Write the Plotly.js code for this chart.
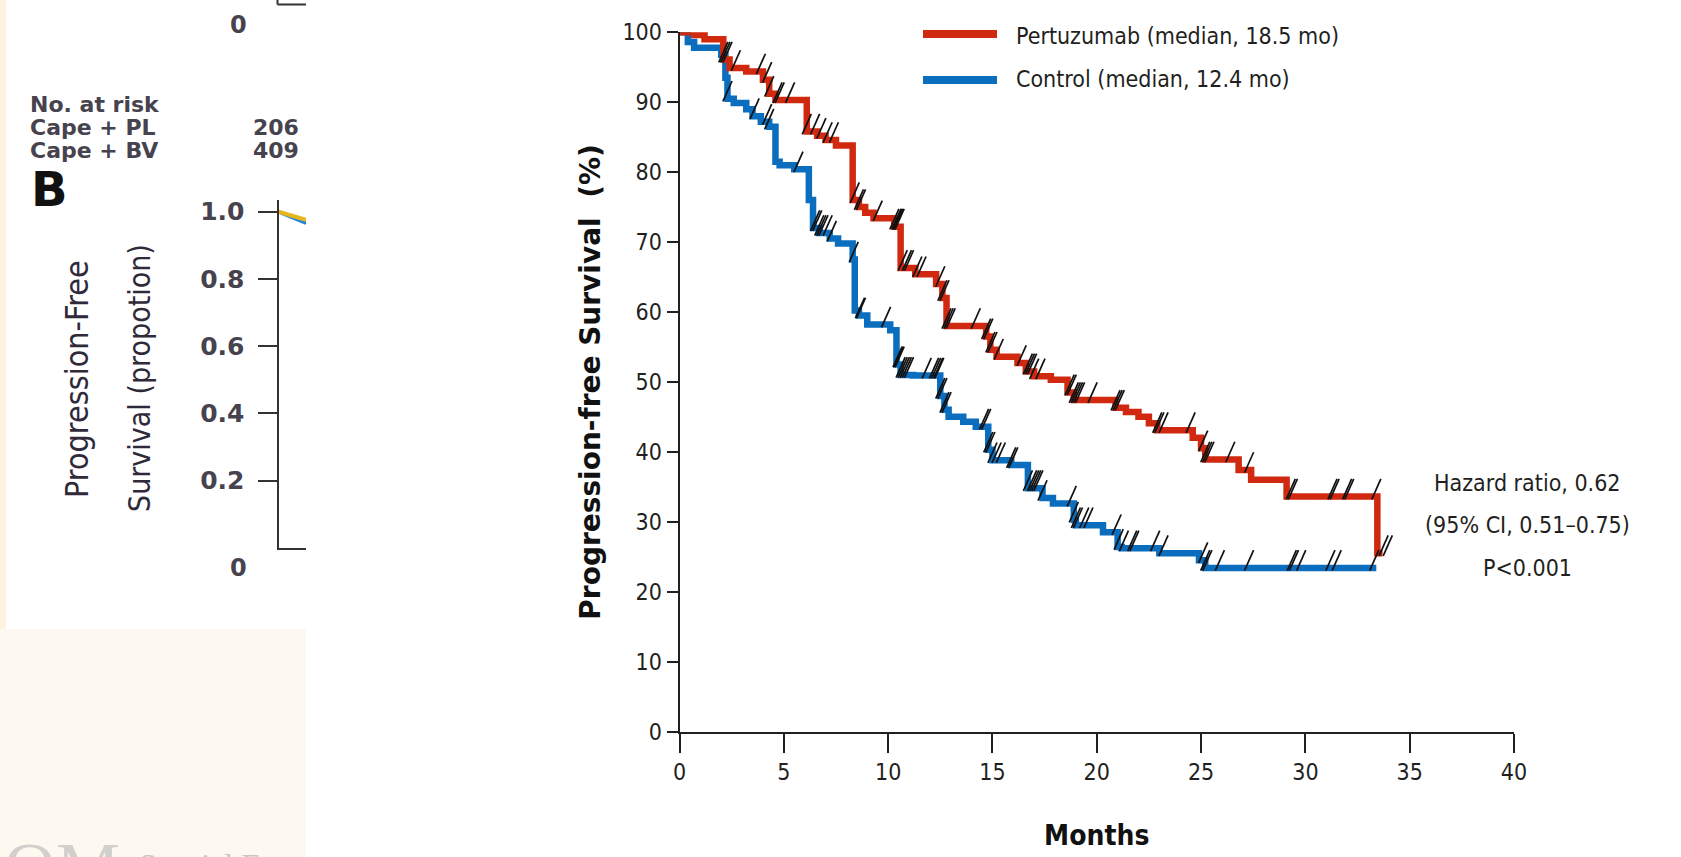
<!DOCTYPE html>
<html>
<head>
<meta charset="utf-8">
<script src="https://cdn.plot.ly/plotly-3.0.1.min.js"></script>
<style>html,body{margin:0;padding:0;background:#fff;}#chart{width:1681px;height:857px;}</style>
</head>
<body>
<div id="chart"></div>
<script>
// ---------- Data ----------
// Pertuzumab arm: Kaplan-Meier step points (months, PFS %)
const pertT = [0, 0.7, 1.2, 2.1, 2.4, 3.2, 4.0, 4.3, 4.6, 6.1, 6.6, 7.0, 7.5, 8.3, 8.6, 8.9, 9.3, 10.3, 10.6, 11.3, 12.3, 12.6, 12.8, 14.7, 14.9, 15.2, 16.2, 16.6, 17.0, 17.8, 18.6, 18.9, 20.9, 21.4, 22.0, 22.5, 22.9, 24.6, 25.0, 25.2, 26.8, 27.4, 29.1, 33.45, 33.7];
const pertS = [100, 99.6, 99.0, 96.1, 94.9, 94.4, 93.2, 91.2, 90.3, 85.8, 85.2, 84.6, 83.8, 76.0, 75.0, 74.2, 73.4, 72.2, 66.3, 65.4, 64.0, 62.0, 58.0, 56.5, 54.6, 53.6, 52.7, 51.5, 50.8, 50.3, 48.5, 47.4, 46.3, 45.7, 45.0, 44.1, 43.1, 42.0, 40.5, 38.9, 37.4, 36.0, 33.6, 25.5, 25.5];
// Control arm
const ctrlT = [0, 0.4, 0.7, 2.0, 2.2, 2.3, 2.6, 3.2, 3.5, 3.9, 4.3, 4.6, 4.8, 5.5, 6.2, 6.4, 6.7, 7.2, 7.6, 8.3, 8.4, 8.6, 9.0, 10.1, 10.4, 10.6, 11.2, 12.5, 12.7, 12.9, 13.6, 14.2, 14.8, 15.0, 15.9, 16.7, 17.4, 17.9, 18.9, 19.0, 20.3, 21.0, 21.2, 23.0, 24.9, 25.2, 33.4];
const ctrlS = [100, 98.6, 97.8, 96.8, 93.5, 90.5, 89.9, 89.0, 88.0, 87.2, 86.5, 81.5, 81.0, 80.4, 76.0, 72.0, 71.3, 70.5, 69.8, 67.5, 60.2, 59.5, 58.2, 57.4, 52.5, 51.0, 50.9, 48.0, 46.0, 45.0, 44.3, 43.6, 40.3, 38.8, 38.1, 34.8, 33.4, 32.6, 30.3, 29.5, 28.5, 26.4, 26.2, 25.5, 24.5, 23.4, 23.4];
// Censoring times (months)
const pertCensor = [0.1, 1.7, 2.1, 2.2, 2.3, 2.7, 3.9, 4.2, 4.3, 4.7, 4.8, 5.3, 6.1, 6.5, 6.8, 7.1, 7.4, 8.4, 8.6, 8.7, 9.5, 10.3, 10.4, 10.45, 10.5, 10.55, 10.7, 10.9, 11.0, 11.4, 11.6, 12.5, 12.6, 12.7, 12.8, 12.9, 13.0, 14.2, 14.7, 14.8, 14.9, 15.0, 15.3, 16.4, 16.7, 16.8, 16.9, 17.0, 17.3, 18.7, 18.8, 18.9, 19.0, 19.1, 19.2, 19.8, 20.9, 21.0, 21.1, 22.9, 23.0, 23.2, 24.5, 25.1, 25.2, 25.3, 25.4, 26.4, 27.3, 29.3, 29.4, 31.3, 31.4, 32.0, 32.1, 33.4, 33.75, 33.95];
const ctrlCensor = [2.3, 3.6, 4.2, 4.3, 5.7, 6.5, 6.6, 6.7, 6.8, 6.9, 7.1, 7.3, 8.35, 8.65, 8.7, 9.9, 10.45, 10.5, 10.55, 10.6, 10.7, 10.8, 10.9, 11.0, 11.85, 12.2, 12.3, 12.4, 12.45, 12.5, 12.6, 12.7, 12.8, 14.6, 14.7, 14.8, 14.9, 15.0, 15.2, 15.4, 15.9, 16.0, 16.7, 16.9, 17.0, 17.1, 17.2, 17.4, 18.8, 18.9, 19.0, 19.1, 19.4, 19.6, 20.95, 21.05, 21.3, 21.7, 21.8, 22.8, 23.2, 25.1, 25.2, 25.3, 25.9, 27.3, 29.35, 29.45, 29.8, 31.2, 31.5, 33.3];
const xTicks = [0, 5, 10, 15, 20, 25, 30, 35, 40];
const yTicks = [0, 10, 20, 30, 40, 50, 60, 70, 80, 90, 100];
const seriesNames = ["Pertuzumab (median, 18.5 mo)", "Control (median, 12.4 mo)"];
const statLines = ["Hazard ratio, 0.62", "(95% CI, 0.51\u20130.75)", "P<0.001"];

// Fragment of the neighbouring figure (panel B) on the left
const fragTicks = [0.2, 0.4, 0.6, 0.8, 1.0];
const fragTickText = ["0.2", "0.4", "0.6", "0.8", "1.0"];
const fragT = [0, 1];
const fragYellow = [1.0, 0.976];
const fragBlue = [1.0, 0.966];
const riskLabels = ["No. at risk", "Cape + PL", "Cape + BV"];
const riskCounts = ["206", "409"];

// ---------- Helpers ----------
const W = 1681, H = 857;
const px = x => x / W;
const py = y => 1 - y / H;
function survAt(T, S, t) {
  let v = S[0];
  for (let i = 0; i < T.length; i++) { if (T[i] <= t) v = S[i]; }
  return v;
}
const NARROW = '"Liberation Sans Narrow", "Arial Narrow", "DejaVu Sans Condensed", sans-serif';
const BOLDW = '"DejaVu Sans", Verdana, sans-serif';
const INK = '#231f20';
const RED = '#d0290f';
const BLUE = '#0a6dbe';

// main plot geometry
const X0 = 679.5, X1 = 1514, Y0 = 731.5, Y1 = 32.3;
const pxPerUnitY = (Y0 - Y1) / 100;
const markLift = 7.5 / pxPerUnitY;   // censor ticks sit just above the curve

const censorMarker = {symbol: 'line-ns', angle: 24, size: 16, line: {width: 1.7, color: '#111'}};

const traces = [
  {x: ctrlT, y: ctrlS, type: 'scatter', mode: 'lines', name: seriesNames[1],
   line: {color: BLUE, width: 6.5, shape: 'hv'}, cliponaxis: false, showlegend: false},
  {x: pertT, y: pertS, type: 'scatter', mode: 'lines', name: seriesNames[0],
   line: {color: RED, width: 6.5, shape: 'hv'}, cliponaxis: false, showlegend: false},
  {x: ctrlCensor, y: ctrlCensor.map(t => survAt(ctrlT, ctrlS, t) + markLift), type: 'scatter', mode: 'markers',
   name: 'Control censored', marker: censorMarker, cliponaxis: false, showlegend: false},
  {x: pertCensor, y: pertCensor.map(t => survAt(pertT, pertS, t) + markLift), type: 'scatter', mode: 'markers',
   name: 'Pertuzumab censored', marker: censorMarker, cliponaxis: false, showlegend: false},
  // fragment of panel B curves
  {x: fragT, y: fragBlue, xaxis: 'x2', yaxis: 'y2', type: 'scatter', mode: 'lines',
   line: {color: '#1e88d8', width: 3.5}, cliponaxis: true, showlegend: false},
  {x: fragT, y: fragYellow, xaxis: 'x2', yaxis: 'y2', type: 'scatter', mode: 'lines',
   line: {color: '#e9b51d', width: 4}, cliponaxis: true, showlegend: false}
];

const leftInk = '#46434f';
const annotations = [
  // legend texts
  {xref: 'paper', yref: 'paper', x: px(1014), y: py(36), xanchor: 'left', yanchor: 'middle', showarrow: false,
   text: seriesNames[0], font: {family: NARROW, size: 23, color: INK}},
  {xref: 'paper', yref: 'paper', x: px(1014), y: py(79), xanchor: 'left', yanchor: 'middle', showarrow: false,
   text: seriesNames[1], font: {family: NARROW, size: 23, color: INK}},
  // hazard ratio block
  {xref: 'paper', yref: 'paper', x: px(1527), y: py(483), xanchor: 'center', yanchor: 'middle', showarrow: false,
   text: statLines[0], font: {family: NARROW, size: 23, color: INK}},
  {xref: 'paper', yref: 'paper', x: px(1527), y: py(525), xanchor: 'center', yanchor: 'middle', showarrow: false,
   text: statLines[1], font: {family: NARROW, size: 23, color: INK}},
  {xref: 'paper', yref: 'paper', x: px(1527), y: py(568), xanchor: 'center', yanchor: 'middle', showarrow: false,
   text: statLines[2], font: {family: NARROW, size: 23, color: INK}},
  // left fragment texts
  {xref: 'paper', yref: 'paper', x: px(238), y: py(25), xanchor: 'center', yanchor: 'middle', showarrow: false,
   text: '<b>0</b>', font: {family: BOLDW, size: 24, color: leftInk}},
  {xref: 'paper', yref: 'paper', x: px(28), y: py(105), xanchor: 'left', yanchor: 'middle', showarrow: false,
   text: '<b>' + riskLabels[0] + '</b>', font: {family: BOLDW, size: 22, color: leftInk}},
  {xref: 'paper', yref: 'paper', x: px(28), y: py(127), xanchor: 'left', yanchor: 'middle', showarrow: false,
   text: '<b>' + riskLabels[1] + '</b>', font: {family: BOLDW, size: 22, color: leftInk}},
  {xref: 'paper', yref: 'paper', x: px(28), y: py(150), xanchor: 'left', yanchor: 'middle', showarrow: false,
   text: '<b>' + riskLabels[2] + '</b>', font: {family: BOLDW, size: 22, color: leftInk}},
  {xref: 'paper', yref: 'paper', x: px(301), y: py(127), xanchor: 'right', yanchor: 'middle', showarrow: false,
   text: '<b>' + riskCounts[0] + '</b>', font: {family: BOLDW, size: 22, color: leftInk}},
  {xref: 'paper', yref: 'paper', x: px(301), y: py(150), xanchor: 'right', yanchor: 'middle', showarrow: false,
   text: '<b>' + riskCounts[1] + '</b>', font: {family: BOLDW, size: 22, color: leftInk}},
  {xref: 'paper', yref: 'paper', x: px(29), y: py(189), xanchor: 'left', yanchor: 'middle', showarrow: false,
   text: '<b>B</b>', font: {family: BOLDW, size: 48, color: '#111'}},
  {xref: 'paper', yref: 'paper', x: px(238), y: py(568), xanchor: 'center', yanchor: 'middle', showarrow: false,
   text: '<b>0</b>', font: {family: BOLDW, size: 24, color: leftInk}},
  {xref: 'paper', yref: 'paper', x: px(77), y: py(379), xanchor: 'center', yanchor: 'middle', showarrow: false, textangle: -90,
   text: 'Progression-Free', font: {family: NARROW, size: 32, color: '#2f2a3a'}},
  {xref: 'paper', yref: 'paper', x: px(140), y: py(378), xanchor: 'center', yanchor: 'middle', showarrow: false, textangle: -90,
   text: 'Survival (propotion)', font: {family: NARROW, size: 30, color: '#2f2a3a'}},
  // faint watermark at bottom-left
  {xref: 'paper', yref: 'paper', x: px(2), y: py(826), xanchor: 'left', yanchor: 'top', showarrow: false,
   text: 'OM', font: {family: '"Liberation Serif", serif', size: 72, color: '#d2d0cc'}},
  {xref: 'paper', yref: 'paper', x: px(137), y: py(845), xanchor: 'left', yanchor: 'top', showarrow: false,
   text: 'Special Feature', font: {family: '"Liberation Serif", serif', size: 32, color: '#c9c7c3'}}
];

const shapes = [
  // cream background pieces
  {type: 'rect', xref: 'paper', yref: 'paper', x0: px(0), x1: px(6), y0: py(0), y1: py(857), fillcolor: '#fcf2e2', line: {width: 0}, layer: 'below'},
  {type: 'rect', xref: 'paper', yref: 'paper', x0: px(0), x1: px(306), y0: py(629), y1: py(857), fillcolor: '#fdf8f0', line: {width: 0}, layer: 'below'},
  // corner of panel A above
  {type: 'line', xref: 'paper', yref: 'paper', x0: px(277.5), x1: px(277.5), y0: py(0), y1: py(4.5), line: {color: '#333', width: 2}},
  {type: 'line', xref: 'paper', yref: 'paper', x0: px(277.5), x1: px(306), y0: py(4.5), y1: py(4.5), line: {color: '#333', width: 2}},
  // legend swatches
  {type: 'line', xref: 'paper', yref: 'paper', x0: px(923), x1: px(997), y0: py(34), y1: py(34), line: {color: RED, width: 8}},
  {type: 'line', xref: 'paper', yref: 'paper', x0: px(923), x1: px(997), y0: py(80), y1: py(80), line: {color: BLUE, width: 8}}
];

const layout = {
  width: W, height: H,
  margin: {l: 0, r: 0, t: 0, b: 0, pad: 0},
  paper_bgcolor: '#ffffff',
  plot_bgcolor: 'rgba(0,0,0,0)',
  showlegend: false,
  xaxis: {
    domain: [px(X0), px(X1)], range: [0, 40], anchor: 'y',
    tickmode: 'array', tickvals: xTicks, ticktext: xTicks.map(String),
    ticks: 'outside', ticklen: 19, tickwidth: 2, tickcolor: INK,
    showline: true, linecolor: INK, linewidth: 2, showgrid: false, zeroline: false,
    tickfont: {family: NARROW, size: 23, color: INK},
    title: {text: '<b>Months</b>', font: {family: NARROW, size: 28, color: '#111'}, standoff: 41}
  },
  yaxis: {
    domain: [py(Y0), py(Y1)], range: [0, 100], anchor: 'x',
    tickmode: 'array', tickvals: yTicks, ticktext: yTicks.map(String),
    ticks: 'outside', ticklen: 11, tickwidth: 2, tickcolor: INK,
    showline: true, linecolor: INK, linewidth: 2, showgrid: false, zeroline: false,
    tickfont: {family: NARROW, size: 23, color: INK},
    title: {text: '<b>Progression-free Survival\u00a0\u00a0(%)</b>', font: {family: BOLDW, size: 28, color: '#111'}, standoff: 14}
  },
  xaxis2: {
    domain: [px(278.5), px(306)], range: [0, 1], anchor: 'y2',
    showline: true, linecolor: '#333', linewidth: 2, ticks: '', showticklabels: false,
    showgrid: false, zeroline: false
  },
  yaxis2: {
    domain: [py(548), py(200)], range: [0, 348 / 336.3], anchor: 'x2',
    tickmode: 'array', tickvals: fragTicks, ticktext: fragTickText.map(t => '<b>' + t + '</b>'),
    ticks: 'outside', ticklen: 19, tickwidth: 2, tickcolor: '#333',
    showline: true, linecolor: '#333', linewidth: 2, showgrid: false, zeroline: false,
    ticklabelstandoff: 8,
    tickfont: {family: BOLDW, size: 25, color: leftInk}
  },
  annotations: annotations,
  shapes: shapes
};

Plotly.newPlot('chart', traces, layout, {displayModeBar: false, staticPlot: true});
</script>
</body>
</html>
